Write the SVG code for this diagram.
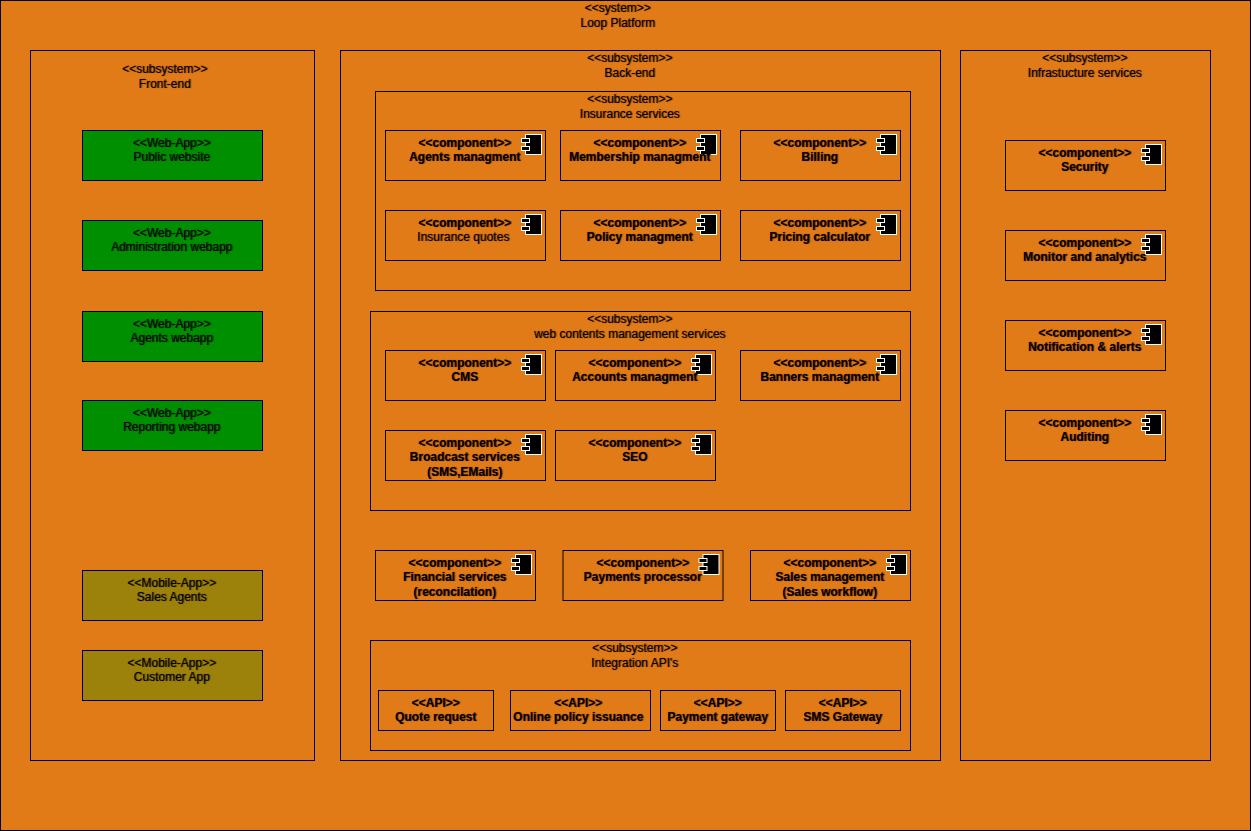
<svg xmlns="http://www.w3.org/2000/svg" width="1251" height="831" viewBox="0 0 1251 831">
<style>
.b{fill:#e17b17;stroke:#000;stroke-width:1}
.g{fill:#008f00;stroke:#000}
.o{fill:#9c820a;stroke:#000}
text{font-family:"Liberation Sans",Arial,sans-serif;font-size:12px;fill:#000;text-anchor:middle;text-rendering:optimizeLegibility;font-kerning:normal;transform:translateX(-.4px);text-shadow:1px 0 1px rgba(0,0,0,.6)}
.s{font-weight:bold}
.i{fill:#000;stroke:#fff;stroke-width:1}
</style>
<defs>
<g id="ic"><rect class="i" x="4" y="0" width="16" height="20"/><rect class="i" x="0" y="4" width="8" height="4"/><rect class="i" x="0" y="12" width="8" height="4"/></g>
</defs>
<g id="system"><rect class="b" x="0.5" y="0.5" width="1250" height="830"/><text x="618" y="12">&lt;&lt;system&gt;&gt;</text><text x="618" y="27">Loop Platform</text></g>
<g id="frontend"><rect class="b" x="30.5" y="50.5" width="284" height="710"/><text x="165" y="73">&lt;&lt;subsystem&gt;&gt;</text><text x="165" y="88">Front-end</text></g>
<g id="backend"><rect class="b" x="340.5" y="50.5" width="600" height="710"/><text x="630" y="62">&lt;&lt;subsystem&gt;&gt;</text><text x="630" y="77">Back-end</text></g>
<g id="infra"><rect class="b" x="960.5" y="50.5" width="250" height="710"/><text x="1085" y="62">&lt;&lt;subsystem&gt;&gt;</text><text x="1085" y="77">Infrastucture services</text></g>
<g id="insurance"><rect class="b" x="375.5" y="91.5" width="535" height="199"/><text x="630" y="103">&lt;&lt;subsystem&gt;&gt;</text><text x="630" y="118">Insurance services</text></g>
<g id="webcontents"><rect class="b" x="370.5" y="311.5" width="540" height="199"/><text x="630" y="323">&lt;&lt;subsystem&gt;&gt;</text><text x="630" y="338">web contents management services</text></g>
<g id="integration"><rect class="b" x="370.5" y="640.5" width="540" height="110"/><text x="635" y="652">&lt;&lt;subsystem&gt;&gt;</text><text x="635" y="667">Integration API's</text></g>

<g id="n1"><rect class="g" x="82.5" y="130.5" width="180" height="50"/><text x="172" y="147">&lt;&lt;Web-App&gt;&gt;</text><text x="172" y="161">Public website</text></g>
<g id="n2"><rect class="g" x="82.5" y="220.5" width="180" height="50"/><text x="172" y="237">&lt;&lt;Web-App&gt;&gt;</text><text x="172" y="251">Administration webapp</text></g>
<g id="n3"><rect class="g" x="82.5" y="311.5" width="180" height="50"/><text x="172" y="328">&lt;&lt;Web-App&gt;&gt;</text><text x="172" y="342">Agents webapp</text></g>
<g id="n4"><rect class="g" x="82.5" y="400.5" width="180" height="50"/><text x="172" y="417">&lt;&lt;Web-App&gt;&gt;</text><text x="172" y="431">Reporting webapp</text></g>
<g id="n5"><rect class="o" x="82.5" y="570.5" width="180" height="50"/><text x="172" y="587">&lt;&lt;Mobile-App&gt;&gt;</text><text x="172" y="601">Sales Agents</text></g>
<g id="n6"><rect class="o" x="82.5" y="650.5" width="180" height="50"/><text x="172" y="667">&lt;&lt;Mobile-App&gt;&gt;</text><text x="172" y="681">Customer App</text></g>

<g id="c1"><rect class="b" x="385.5" y="130.5" width="160" height="50"/><use href="#ic" x="521.5" y="134.5"/><text class="s" x="465" y="147">&lt;&lt;component&gt;&gt;</text><text class="s" x="465" y="161">Agents managment</text></g>
<g id="c2"><rect class="b" x="560.5" y="130.5" width="160" height="50"/><use href="#ic" x="696.5" y="134.5"/><text class="s" x="640" y="147">&lt;&lt;component&gt;&gt;</text><text class="s" x="640" y="161">Membership managment</text></g>
<g id="c3"><rect class="b" x="740.5" y="130.5" width="160" height="50"/><use href="#ic" x="876.5" y="134.5"/><text class="s" x="820" y="147">&lt;&lt;component&gt;&gt;</text><text class="s" x="820" y="161">Billing</text></g>
<g id="c4"><rect class="b" x="385.5" y="210.5" width="160" height="50"/><use href="#ic" x="521.5" y="214.5"/><text class="s" x="465" y="227">&lt;&lt;component&gt;&gt;</text><text x="463.5" y="241">Insurance quotes</text></g>
<g id="c5"><rect class="b" x="560.5" y="210.5" width="160" height="50"/><use href="#ic" x="696.5" y="214.5"/><text class="s" x="640" y="227">&lt;&lt;component&gt;&gt;</text><text class="s" x="640" y="241">Policy managment</text></g>
<g id="c6"><rect class="b" x="740.5" y="210.5" width="160" height="50"/><use href="#ic" x="876.5" y="214.5"/><text class="s" x="820" y="227">&lt;&lt;component&gt;&gt;</text><text class="s" x="820" y="241">Pricing calculator</text></g>

<g id="c7"><rect class="b" x="385.5" y="350.5" width="160" height="50"/><use href="#ic" x="521.5" y="354.5"/><text class="s" x="465" y="367">&lt;&lt;component&gt;&gt;</text><text class="s" x="465" y="381">CMS</text></g>
<g id="c8"><rect class="b" x="555.5" y="350.5" width="160" height="50"/><use href="#ic" x="691.5" y="354.5"/><text class="s" x="635" y="367">&lt;&lt;component&gt;&gt;</text><text class="s" x="635" y="381">Accounts managment</text></g>
<g id="c9"><rect class="b" x="740.5" y="350.5" width="160" height="50"/><use href="#ic" x="876.5" y="354.5"/><text class="s" x="820" y="367">&lt;&lt;component&gt;&gt;</text><text class="s" x="820" y="381">Banners managment</text></g>
<g id="c10"><rect class="b" x="385.5" y="430.5" width="160" height="50"/><use href="#ic" x="521.5" y="434.5"/><text class="s" x="465" y="447">&lt;&lt;component&gt;&gt;</text><text class="s" x="465" y="461">Broadcast services</text><text class="s" x="465" y="476">(SMS,EMails)</text></g>
<g id="c11"><rect class="b" x="555.5" y="430.5" width="160" height="50"/><use href="#ic" x="691.5" y="434.5"/><text class="s" x="635" y="447">&lt;&lt;component&gt;&gt;</text><text class="s" x="635" y="461">SEO</text></g>

<g id="c12"><rect class="b" x="375.5" y="550.5" width="160" height="50"/><use href="#ic" x="511.5" y="554.5"/><text class="s" x="455" y="567">&lt;&lt;component&gt;&gt;</text><text class="s" x="455" y="581">Financial services</text><text class="s" x="455" y="596">(reconcilation)</text></g>
<g id="c13"><rect class="b" x="563" y="550.5" width="160" height="50"/><use href="#ic" x="699" y="554.5"/><text class="s" x="643" y="567">&lt;&lt;component&gt;&gt;</text><text class="s" x="643" y="581">Payments processor</text></g>
<g id="c14"><rect class="b" x="750.5" y="550.5" width="160" height="50"/><use href="#ic" x="886.5" y="554.5"/><text class="s" x="830" y="567">&lt;&lt;component&gt;&gt;</text><text class="s" x="830" y="581">Sales management</text><text class="s" x="830" y="596">(Sales workflow)</text></g>

<g id="c15"><rect class="b" x="1005.5" y="140.5" width="160" height="50"/><use href="#ic" x="1141.5" y="144.5"/><text class="s" x="1085" y="157">&lt;&lt;component&gt;&gt;</text><text class="s" x="1085" y="171">Security</text></g>
<g id="c16"><rect class="b" x="1005.5" y="230.5" width="160" height="50"/><use href="#ic" x="1141.5" y="234.5"/><text class="s" x="1085" y="247">&lt;&lt;component&gt;&gt;</text><text class="s" x="1085" y="261">Monitor and analytics</text></g>
<g id="c17"><rect class="b" x="1005.5" y="320.5" width="160" height="50"/><use href="#ic" x="1141.5" y="324.5"/><text class="s" x="1085" y="337">&lt;&lt;component&gt;&gt;</text><text class="s" x="1085" y="351">Notification &amp; alerts</text></g>
<g id="c18"><rect class="b" x="1005.5" y="410.5" width="160" height="50"/><use href="#ic" x="1141.5" y="414.5"/><text class="s" x="1085" y="427">&lt;&lt;component&gt;&gt;</text><text class="s" x="1085" y="441">Auditing</text></g>

<g id="a1"><rect class="b" x="378.5" y="690.5" width="115" height="40"/><text class="s" x="436" y="707">&lt;&lt;API&gt;&gt;</text><text class="s" x="436" y="721">Quote request</text></g>
<g id="a2"><rect class="b" x="510.5" y="690.5" width="140" height="40"/><text class="s" x="578.5" y="707">&lt;&lt;API&gt;&gt;</text><text class="s" x="578.5" y="721">Online policy issuance</text></g>
<g id="a3"><rect class="b" x="660.5" y="690.5" width="115" height="40"/><text class="s" x="718" y="707">&lt;&lt;API&gt;&gt;</text><text class="s" x="718" y="721">Payment gateway</text></g>
<g id="a4"><rect class="b" x="785.5" y="690.5" width="115" height="40"/><text class="s" x="843" y="707">&lt;&lt;API&gt;&gt;</text><text class="s" x="843" y="721">SMS Gateway</text></g>
<g id="connectors"></g>
</svg>
